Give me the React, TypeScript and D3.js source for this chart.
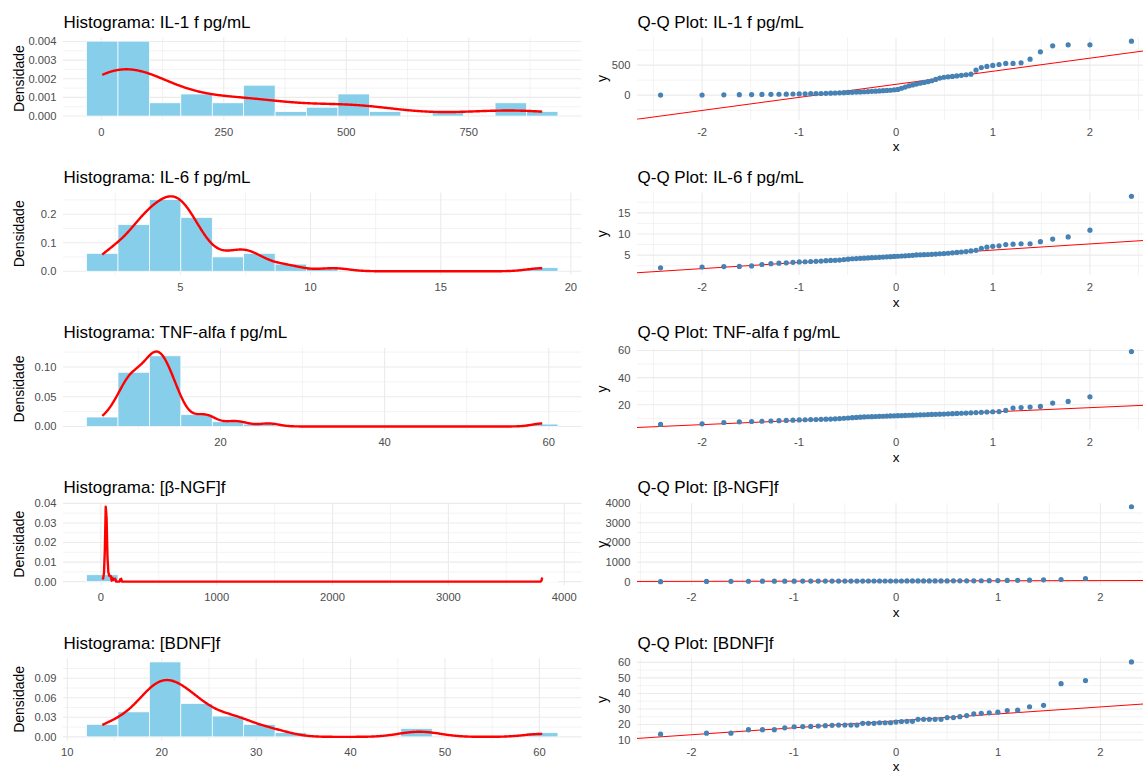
import * as d3 from "d3";

// sample values
const il1 = [2, 3, 5, 8, 10, 12, 14, 15, 17, 19, 20, 22, 24, 26, 28, 30, 33,
  36, 39, 42, 45, 48, 51, 54, 57, 60, 63, 66, 70, 74, 78, 82, 88, 95,
  115, 135, 155, 170, 185, 200, 212, 225, 240, 262, 285,
  298, 305, 312, 320, 330, 340, 350, 417, 461, 478,
  495, 511, 528, 528, 539, 600, 722, 822, 839, 839, 900];
const il6 = [2.0, 2.2, 2.3, 2.35, 2.45,
  2.8, 3.0, 3.1, 3.2, 3.3, 3.4, 3.45, 3.5, 3.55, 3.6, 3.7, 3.75, 3.78,
  3.85, 3.95, 4.05, 4.15, 4.2, 4.25, 4.3, 4.35, 4.4, 4.45, 4.5, 4.55, 4.6, 4.65, 4.7, 4.75, 4.8, 4.85, 4.9, 4.97,
  5.05, 5.08, 5.12, 5.16, 5.2, 5.25, 5.3, 5.35, 5.45, 5.55, 5.65, 5.75, 5.85, 6.0, 6.15,
  6.6, 6.9, 7.1, 7.2, 7.5, 7.6, 7.7, 7.7, 8.2, 8.8, 9.3, 10.9, 18.9];
const tnf = [5.6, 6.0, 7.0,
  7.5, 7.7, 7.9, 8.1, 8.3, 8.5, 8.7, 8.9, 9.0, 9.1, 9.2, 9.3, 9.4, 9.5, 9.7, 9.9, 10.1, 10.3, 10.5, 10.7, 10.9, 11.1, 11.2,
  11.3, 11.4, 11.5, 11.6, 11.7, 11.8, 11.9, 12.0, 12.1, 12.2, 12.3, 12.4, 12.5, 12.6, 12.7, 12.8,
  12.9, 13.0, 13.1, 13.2, 13.35, 13.5, 13.65, 13.8, 13.95, 14.1, 14.3, 14.5, 14.7, 14.9, 15.05,
  15.9, 17.6, 18.0, 18.3, 18.8, 21.3, 22.5, 25.9, 59.2];
const ngf = [12, 24, 30, 33, 35, 36, 37, 38, 39, 39, 40, 40, 41, 41, 42, 42, 43, 43, 44, 44,
  45, 45, 45, 46, 46, 47, 47, 48, 48, 49, 50, 50, 51, 52, 53, 54, 56, 58, 61, 65,
  72, 80, 86, 103, 120, 172, 3810];
const bdnf = [13.7, 14.4, 14.4, 16.6, 16.6, 16.6, 17.8, 18.5, 18.6, 18.7,
  19.0, 19.2, 19.4, 19.6, 19.6, 19.6, 19.6, 20.7, 20.7, 20.7, 21.1, 21.1, 21.1, 21.5, 21.9, 22.0, 22.0,
  23.3, 23.3, 23.3, 23.3, 23.3, 24.4, 24.4, 25.0,
  25.7, 26.8, 27.2, 27.5, 27.9, 29.0, 29.2, 31.4, 32.3, 46.3, 48.3, 60.3];

const names = ["IL-1 f pg/mL", "IL-6 f pg/mL", "TNF-alfa f pg/mL", "[β-NGF]f", "[BDNF]f"];
const series = [il1, il6, tnf, ngf, bdnf];

const histXTicks = [[0, 250, 500, 750], [5, 10, 15, 20], [20, 40, 60], [0, 1000, 2000, 3000, 4000], [10, 20, 30, 40, 50, 60]];
const histYTicks = [[0, 0.001, 0.002, 0.003, 0.004], [0, 0.1, 0.2], [0, 0.05, 0.1], [0, 0.01, 0.02, 0.03, 0.04], [0, 0.03, 0.06, 0.09]];
const qqXTicks = [-2, -1, 0, 1, 2];
const qqYTicks = [[0, 500], [5, 10, 15], [20, 40, 60], [0, 1000, 2000, 3000, 4000], [10, 20, 30, 40, 50, 60]];

const W = 1143;
const H = 774;
const BINS = 15;
const FONT = "'Liberation Sans', Arial, Helvetica, sans-serif";
const TOP0 = 37.4;
const ROW_STEP = 155.2;
const PANEL_H = 82.4;
const HIST_X: [number, number] = [63, 581.5];
const QQ_X: [number, number] = [637, 1155];
const GRID = "#EBEBEB";
const TICK_COL = "#4D4D4D";

function qnorm(p: number): number {
  const a = [-3.969683028665376e1, 2.209460984245205e2, -2.759285104469687e2, 1.38357751867269e2, -3.066479806614716e1, 2.506628277459239];
  const b = [-5.447609879822406e1, 1.615858368580409e2, -1.556989798598866e2, 6.680131188771972e1, -1.328068155288572e1];
  const c = [-7.784894002430293e-3, -3.223964580411365e-1, -2.400758277161838, -2.549732539343734, 4.374664141464968, 2.938163982698783];
  const d = [7.784695709041462e-3, 3.224671290700398e-1, 2.445134137142996, 3.754408661907416];
  const plow = 0.02425;
  if (p < plow) {
    const q = Math.sqrt(-2 * Math.log(p));
    return (((((c[0] * q + c[1]) * q + c[2]) * q + c[3]) * q + c[4]) * q + c[5]) / ((((d[0] * q + d[1]) * q + d[2]) * q + d[3]) * q + 1);
  }
  if (p > 1 - plow) {
    const q = Math.sqrt(-2 * Math.log(1 - p));
    return -(((((c[0] * q + c[1]) * q + c[2]) * q + c[3]) * q + c[4]) * q + c[5]) / ((((d[0] * q + d[1]) * q + d[2]) * q + d[3]) * q + 1);
  }
  const q = p - 0.5;
  const r = q * q;
  return ((((((a[0] * r + a[1]) * r + a[2]) * r + a[3]) * r + a[4]) * r + a[5]) * q) / (((((b[0] * r + b[1]) * r + b[2]) * r + b[3]) * r + b[4]) * r + 1);
}

// R's bw.nrd0
function nrd0(sorted: number[]) {
  const sd = d3.deviation(sorted) || 1;
  const iqr = (d3.quantileSorted(sorted, 0.75) as number) - (d3.quantileSorted(sorted, 0.25) as number);
  let lo = Math.min(sd, iqr / 1.34);
  if (!lo) lo = sd;
  return 0.9 * lo * Math.pow(sorted.length, -0.2);
}

function minorTicks(major: number[], domain: number[]) {
  const step = major[1] - major[0];
  const out: number[] = [];
  for (let v = major[0] - step / 2; v <= major[major.length - 1] + step / 2 + 1e-9; v += step) {
    if (v >= domain[0] && v <= domain[1]) out.push(v);
  }
  return out;
}

function fmt(ticks: number[]) {
  const step = Math.abs(ticks[1] - ticks[0]);
  const dec = Math.max(0, -Math.floor(Math.log10(step) + 1e-9));
  return (v: number) => v.toFixed(dec);
}

type Sx = d3.ScaleLinear<number, number>;

function Grid({ x, y, xTicks, yTicks, top }: { x: Sx; y: Sx; xTicks: number[]; yTicks: number[]; top: number }) {
  const [l, r] = x.range();
  const bottom = top + PANEL_H;
  const xd = x.domain();
  const yd = y.domain();
  return (
    <g>
      {minorTicks(yTicks, yd).map((v) => (
        <line key={"ym" + v} x1={l} x2={r} y1={y(v)} y2={y(v)} stroke={GRID} strokeWidth={0.6} />
      ))}
      {minorTicks(xTicks, xd).map((v) => (
        <line key={"xm" + v} x1={x(v)} x2={x(v)} y1={top} y2={bottom} stroke={GRID} strokeWidth={0.6} />
      ))}
      {yTicks.filter((v) => v >= yd[0] && v <= yd[1]).map((v) => (
        <line key={"y" + v} x1={l} x2={r} y1={y(v)} y2={y(v)} stroke={GRID} strokeWidth={1.1} />
      ))}
      {xTicks.filter((v) => v >= xd[0] && v <= xd[1]).map((v) => (
        <line key={"x" + v} x1={x(v)} x2={x(v)} y1={top} y2={bottom} stroke={GRID} strokeWidth={1.1} />
      ))}
    </g>
  );
}

function Axes({ x, y, xTicks, yTicks, top }: { x: Sx; y: Sx; xTicks: number[]; yTicks: number[]; top: number }) {
  const l = x.range()[0];
  const bottom = top + PANEL_H;
  const fx = fmt(xTicks);
  const fy = fmt(yTicks);
  return (
    <g fontFamily={FONT} fontSize={11.2} fill={TICK_COL}>
      {yTicks.map((v) => (
        <text key={"yl" + v} x={l - 6.6} y={y(v)} dy="0.35em" textAnchor="end">{fy(v)}</text>
      ))}
      {xTicks.map((v) => (
        <text key={"xl" + v} x={x(v)} y={bottom + 15.8} textAnchor="middle">{fx(v)}</text>
      ))}
    </g>
  );
}

function HistPanel({ idx }: { idx: number }) {
  const top = TOP0 + idx * ROW_STEP;
  const bottom = top + PANEL_H;
  const sorted = series[idx].slice().sort(d3.ascending);
  const n = sorted.length;
  const mn = sorted[0];
  const mx = sorted[n - 1];
  const w = (mx - mn) / (BINS - 1);
  const x0 = mn - w / 2;
  const counts = new Array(BINS).fill(0);
  sorted.forEach((v) => {
    const i = Math.min(BINS - 1, Math.max(0, Math.floor((v - x0) / w)));
    counts[i] += 1;
  });
  const dens = counts.map((c) => c / (n * w));
  const bw = nrd0(sorted);
  const k = 1 / (n * bw * Math.sqrt(2 * Math.PI));
  const curve: [number, number][] = d3.range(512).map((i) => {
    const g = mn + ((mx - mn) * i) / 511;
    return [g, k * d3.sum(sorted, (v) => Math.exp(-0.5 * ((g - v) / bw) ** 2))];
  });
  const xHi = x0 + BINS * w;
  const pad = (xHi - x0) * 0.05;
  const x = d3.scaleLinear().domain([x0 - pad, xHi + pad]).range(HIST_X);
  const yMax = Math.max(d3.max(dens) as number, d3.max(curve, (d) => d[1]) as number);
  const y = d3.scaleLinear().domain([-yMax * 0.05, yMax * 1.05]).range([bottom, top]);
  const line = d3.line<[number, number]>().x((d) => x(d[0])).y((d) => y(d[1]));
  const clipId = "hclip" + idx;
  return (
    <g>
      <defs>
        <clipPath id={clipId}>
          <rect x={HIST_X[0]} y={top} width={HIST_X[1] - HIST_X[0]} height={PANEL_H} />
        </clipPath>
      </defs>
      <Grid x={x} y={y} xTicks={histXTicks[idx]} yTicks={histYTicks[idx]} top={top} />
      <g clipPath={`url(#${clipId})`}>
        {dens.map((dv, i) =>
          dv > 0 ? (
            <rect key={i} x={x(x0 + i * w)} width={x(x0 + (i + 1) * w) - x(x0 + i * w)} y={y(dv)} height={y(0) - y(dv)}
              fill="#87CEEB" stroke="#FFFFFF" strokeWidth={0.7} />
          ) : null
        )}
        <path d={line(curve) || ""} fill="none" stroke="#FF0000" strokeWidth={2.4} strokeLinejoin="round" />
      </g>
      <Axes x={x} y={y} xTicks={histXTicks[idx]} yTicks={histYTicks[idx]} top={top} />
      <text x={HIST_X[0] + 0.5} y={top - 9.6} fontFamily={FONT} fontSize={17} fill="#000">
        {"Histograma: " + names[idx]}
      </text>
      <text transform={`translate(24,${(top + bottom) / 2}) rotate(-90)`} textAnchor="middle" fontFamily={FONT} fontSize={14} fill="#000">
        Densidade
      </text>
    </g>
  );
}

function QQPanel({ idx }: { idx: number }) {
  const top = TOP0 + idx * ROW_STEP;
  const bottom = top + PANEL_H;
  const sorted = series[idx].slice().sort(d3.ascending);
  const n = sorted.length;
  const pts = sorted.map((v, i) => [qnorm((i + 0.5) / n), v] as [number, number]);
  const q1 = d3.quantileSorted(sorted, 0.25) as number;
  const q3 = d3.quantileSorted(sorted, 0.75) as number;
  const slope = (q3 - q1) / (qnorm(0.75) - qnorm(0.25));
  const icpt = q1 - slope * qnorm(0.25);
  const tMin = pts[0][0];
  const tMax = pts[n - 1][0];
  const xPad = (tMax - tMin) * 0.05;
  const x = d3.scaleLinear().domain([tMin - xPad, tMax + xPad]).range(QQ_X);
  const yLo = Math.min(sorted[0], icpt + slope * tMin);
  const yHi = Math.max(sorted[n - 1], icpt + slope * tMax);
  const yPad = (yHi - yLo) * 0.05;
  const y = d3.scaleLinear().domain([yLo - yPad, yHi + yPad]).range([bottom, top]);
  const xd = x.domain();
  const clipId = "qclip" + idx;
  return (
    <g>
      <defs>
        <clipPath id={clipId}>
          <rect x={QQ_X[0]} y={top} width={QQ_X[1] - QQ_X[0]} height={PANEL_H} />
        </clipPath>
      </defs>
      <Grid x={x} y={y} xTicks={qqXTicks} yTicks={qqYTicks[idx]} top={top} />
      <g clipPath={`url(#${clipId})`}>
        <line x1={x(xd[0])} x2={x(xd[1])} y1={y(icpt + slope * xd[0])} y2={y(icpt + slope * xd[1])} stroke="#FF0000" strokeWidth={1} />
        {pts.map((p, i) => (
          <circle key={i} cx={x(p[0])} cy={y(p[1])} r={2.6} fill="#4682B4" />
        ))}
      </g>
      <Axes x={x} y={y} xTicks={qqXTicks} yTicks={qqYTicks[idx]} top={top} />
      <text x={QQ_X[0] + 0.5} y={top - 9.6} fontFamily={FONT} fontSize={17} fill="#000">
        {"Q-Q Plot: " + names[idx]}
      </text>
      <text transform={`translate(607,${(top + bottom) / 2}) rotate(-90)`} textAnchor="middle" fontFamily={FONT} fontSize={14} fill="#000">
        y
      </text>
      <text x={(QQ_X[0] + QQ_X[1]) / 2} y={Math.min(bottom + 31.5, H - 2.9)} textAnchor="middle" fontFamily={FONT} fontSize={13.5} fill="#000">
        x
      </text>
    </g>
  );
}

export default function App() {
  return (
    <svg width={W} height={H} viewBox={`0 0 ${W} ${H}`} style={{ position: "absolute", left: 0, top: 0, display: "block", background: "#fff" }}>
      <rect width={W} height={H} fill="#fff" />
      {series.map((_, i) => (
        <g key={i}>
          <HistPanel idx={i} />
          <QQPanel idx={i} />
        </g>
      ))}
    </svg>
  );
}
